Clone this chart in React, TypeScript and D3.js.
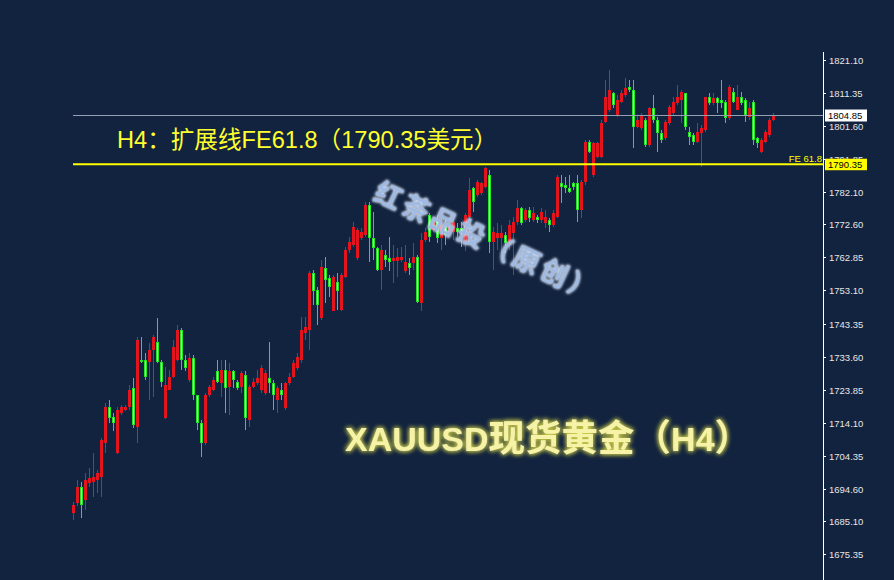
import React from "react";
import * as d3 from "d3";

const W = 894;
const H = 580;

const opens = [1687.4,1690.3,1695.2,1691.3,1696.4,1696.7,1697.2,1698.2,1708.0,1718.8,1715.9,1705.1,1716.9,1717.9,1718.8,1724.2,1712.9,1732.6,1732.6,1732.1,1735.6,1738.0,1732.1,1715.4,1723.8,1727.7,1732.6,1741.5,1732.6,1726.7,1733.1,1722.3,1713.9,1708.0,1722.3,1723.8,1729.2,1725.7,1729.7,1724.7,1729.2,1726.2,1724.7,1728.2,1714.9,1724.7,1725.7,1723.8,1722.8,1727.2,1725.7,1720.8,1723.8,1718.4,1725.7,1727.7,1730.2,1732.6,1740.5,1741.5,1758.2,1753.3,1744.9,1759.7,1756.7,1746.9,1755.7,1747.4,1757.2,1765.1,1766.5,1762.6,1768.5,1769.5,1778.3,1768.5,1765.5,1759.2,1763.6,1762.6,1761.9,1761.9,1762.1,1758.7,1761.1,1761.1,1763.1,1749.3,1768.0,1775.4,1771.0,1773.9,1768.5,1771.9,1770.0,1770.5,1771.4,1771.4,1767.0,1774.9,1783.2,1781.3,1781.8,1783.7,1787.2,1767.5,1768.5,1768.5,1769.5,1766.5,1770.0,1773.4,1777.4,1773.9,1776.9,1773.9,1774.9,1773.9,1772.9,1773.9,1772.4,1774.9,1784.7,1784.2,1783.2,1784.7,1784.7,1776.9,1785.2,1797.0,1787.2,1792.6,1792.6,1802.9,1806.4,1811.3,1804.9,1808.8,1810.8,1813.2,1812.3,1801.4,1800.9,1803.4,1796.0,1806.8,1803.4,1799.5,1798.0,1802.4,1805.4,1808.3,1809.3,1811.3,1800.0,1799.0,1797.0,1799.5,1800.5,1810.3,1808.3,1809.8,1809.3,1808.8,1803.9,1811.8,1806.4,1810.3,1809.3,1804.4,1808.8,1798.0,1794.1,1797.0,1799.0,1803.4];
const highs = [1690.8,1697.2,1696.7,1699.2,1700.7,1705.1,1700.2,1709.5,1719.8,1720.8,1716.9,1718.8,1719.3,1719.3,1725.2,1727.2,1739.5,1739.5,1734.6,1737.5,1740.0,1744.9,1732.6,1730.6,1729.7,1738.5,1743.0,1741.9,1734.1,1734.6,1734.1,1722.3,1714.9,1722.8,1725.2,1727.7,1732.6,1732.6,1732.6,1731.6,1729.7,1726.7,1729.2,1729.2,1725.2,1727.2,1729.7,1731.1,1729.7,1738.0,1726.7,1724.8,1725.7,1726.2,1728.7,1732.6,1734.6,1745.4,1745.4,1758.7,1759.2,1754.2,1762.1,1763.1,1757.7,1757.7,1758.2,1758.2,1766.0,1769.0,1773.4,1771.4,1771.4,1779.3,1779.3,1776.4,1766.0,1766.5,1765.1,1769.0,1766.5,1765.5,1766.0,1766.5,1762.6,1767.0,1763.6,1770.0,1771.4,1775.9,1774.9,1775.4,1774.9,1773.9,1772.9,1774.4,1772.9,1773.4,1775.9,1786.2,1783.7,1785.7,1785.2,1789.6,1788.7,1771.9,1772.9,1772.4,1770.5,1773.9,1774.9,1779.8,1777.8,1777.4,1777.8,1777.8,1775.4,1777.4,1776.9,1774.4,1776.9,1787.2,1787.2,1786.7,1787.2,1785.2,1787.2,1785.7,1797.5,1797.5,1797.0,1797.0,1803.4,1815.2,1818.2,1811.8,1810.8,1812.3,1815.7,1815.2,1815.2,1804.9,1805.4,1803.9,1807.3,1810.8,1804.4,1800.5,1803.4,1807.8,1810.3,1813.7,1812.3,1811.3,1801.4,1799.5,1802.4,1801.9,1810.3,1811.3,1811.3,1810.3,1815.2,1809.3,1813.7,1812.7,1813.7,1811.8,1809.8,1808.8,1809.3,1798.5,1798.0,1800.5,1803.9,1805.4];
const lows = [1685.4,1689.4,1685.9,1688.4,1695.2,1692.3,1693.3,1692.3,1705.1,1713.9,1711.5,1704.9,1716.4,1717.4,1717.9,1712.5,1708.0,1731.6,1726.7,1720.8,1721.8,1731.6,1724.7,1715.1,1723.6,1727.2,1732.4,1729.7,1729.2,1726.2,1720.8,1712.0,1704.1,1707.5,1721.8,1723.3,1725.7,1721.8,1716.9,1716.4,1724.2,1723.8,1722.8,1712.0,1712.9,1724.2,1725.2,1722.8,1722.3,1722.8,1717.9,1716.9,1720.8,1717.9,1725.2,1727.2,1729.7,1731.6,1738.5,1735.6,1748.8,1742.9,1744.4,1749.3,1751.3,1746.9,1747.4,1746.9,1756.7,1764.1,1766.0,1762.1,1768.0,1769.0,1761.6,1762.1,1758.7,1753.3,1760.1,1758.7,1755.2,1757.2,1761.6,1758.2,1757.7,1759.2,1749.3,1746.9,1767.5,1767.5,1770.5,1767.0,1765.1,1766.5,1769.5,1768.0,1769.0,1766.0,1764.6,1770.0,1776.4,1780.8,1781.3,1783.2,1764.1,1759.2,1765.1,1764.1,1764.1,1765.1,1757.7,1772.4,1772.4,1773.4,1773.4,1773.4,1772.9,1772.9,1771.4,1770.5,1771.9,1774.4,1778.8,1781.8,1781.8,1782.8,1773.4,1774.4,1784.2,1793.6,1786.7,1792.1,1792.1,1802.4,1805.9,1806.8,1804.4,1808.3,1810.3,1811.8,1795.0,1800.9,1800.5,1795.5,1795.5,1802.4,1794.1,1796.5,1797.5,1801.9,1804.9,1807.8,1802.4,1800.5,1796.0,1796.0,1796.5,1789.6,1800.0,1807.8,1807.8,1805.4,1806.8,1802.4,1803.4,1808.3,1806.4,1807.8,1802.9,1803.4,1796.0,1795.0,1793.6,1796.5,1798.5,1803.2];
const closes = [1689.8,1695.2,1689.8,1697.2,1697.7,1698.2,1699.2,1709.0,1718.8,1715.4,1713.9,1717.9,1718.8,1718.8,1723.8,1713.4,1738.5,1732.0,1727.7,1735.6,1739.5,1732.1,1726.2,1725.2,1727.7,1736.5,1741.5,1732.6,1730.1,1733.1,1722.3,1713.9,1708.0,1722.3,1724.7,1726.7,1726.2,1729.7,1724.2,1729.2,1726.7,1724.2,1728.7,1715.4,1724.7,1726.2,1727.2,1730.2,1728.7,1725.7,1722.3,1724.2,1722.3,1725.7,1727.7,1731.6,1733.6,1741.5,1742.4,1758.2,1752.8,1748.8,1760.1,1756.2,1754.2,1757.2,1752.8,1757.7,1765.1,1767.5,1771.9,1771.0,1770.5,1778.3,1768.5,1765.5,1759.2,1765.1,1762.1,1761.6,1762.6,1763.1,1763.1,1761.6,1759.7,1763.1,1749.8,1768.0,1770.5,1769.0,1773.4,1768.5,1772.4,1769.5,1771.9,1773.4,1770.5,1770.5,1775.4,1782.8,1779.3,1785.2,1784.7,1789.1,1767.5,1770.5,1770.0,1770.0,1767.0,1772.4,1773.4,1777.4,1772.9,1776.9,1774.4,1775.9,1773.9,1776.4,1774.9,1772.4,1775.9,1786.7,1783.7,1783.2,1782.3,1783.7,1776.9,1785.2,1797.0,1794.1,1796.5,1796.5,1802.4,1810.3,1812.3,1807.8,1809.3,1811.3,1812.7,1812.3,1801.4,1803.4,1804.9,1796.0,1806.8,1803.4,1799.5,1797.5,1802.9,1807.3,1808.8,1810.3,1811.8,1801.4,1798.5,1797.0,1800.0,1800.9,1810.3,1808.3,1809.8,1808.3,1808.3,1803.9,1813.2,1808.8,1810.3,1808.3,1804.9,1806.8,1797.5,1796.5,1797.5,1800.0,1803.4,1804.9];

const tickValues = [1821.10, 1811.35, 1801.60, 1791.85, 1782.10, 1772.60, 1762.85, 1753.10, 1743.35, 1733.60, 1723.85, 1714.10, 1704.35, 1694.60, 1685.10, 1675.35];
const lastPrice = 1804.85;
const fePrice = 1790.35;
const feLabel = "FE 61.8";
const titleText = "H4：扩展线FE61.8（1790.35美元）";
const bottomParts = ["XAUUSD", "现货黄金（", "H4", "）"];
const watermarkText = "红茶品投（原创）";

const BG = "#12233f";
const UP = "#e3141e";
const DOWN = "#22e622";
const DOWN_FILL = "#b8ffb8";
const AXIS_X = 823;

export default function App() {
  const n = opens.length;
  const x = d3.scaleLinear().domain([0, n - 1]).range([73.5, 73.5 + 4 * (n - 1)]);
  const y = d3.scaleLinear().domain([1675.35, 1821.10]).range([554, 60]);

  const candles = d3.range(n).map((i) => {
    const o = opens[i], c = closes[i], h = highs[i], l = lows[i];
    const up = c >= o;
    const xc = x(i);
    const top = Math.round(y(Math.max(o, c)));
    const bot = Math.round(y(Math.min(o, c)));
    const bh = Math.max(1, bot - top);
    const yh = Math.round(y(h));
    const yl = Math.round(y(l));
    return (
      <g key={i}>
        <rect x={xc - 0.5} y={yh} width={1} height={Math.max(1, yl - yh)} fill={up ? UP : DOWN} />
        {up ? (
          <rect x={xc - 1.5} y={top} width={3} height={bh} fill={UP} />
        ) : (
          <g>
            <rect x={xc - 1.5} y={top} width={3} height={bh} fill={DOWN} />
            {bh > 2 && <rect x={xc - 0.5} y={top + 1} width={1} height={bh - 2} fill={DOWN_FILL} />}
          </g>
        )}
      </g>
    );
  });

  const yLast = Math.round(y(lastPrice)) + 0.5;
  const yFe = y(fePrice);

  return (
    <svg width={W} height={H} style={{ position: "absolute", left: 0, top: 0, display: "block" }} xmlns="http://www.w3.org/2000/svg">
      <defs>
        <clipPath id="plotClip">
          <rect x={0} y={0} width={W} height={558} />
        </clipPath>
        <filter id="glowY" x="-10%" y="-40%" width="120%" height="180%">
          <feGaussianBlur in="SourceAlpha" stdDeviation="2.4" result="b" />
          <feFlood floodColor="#d8d84a" floodOpacity="0.9" />
          <feComposite in2="b" operator="in" result="g" />
          <feMerge>
            <feMergeNode in="g" />
            <feMergeNode in="g" />
            <feMergeNode in="SourceGraphic" />
          </feMerge>
        </filter>
        <filter id="glowB" x="-10%" y="-40%" width="120%" height="180%">
          <feGaussianBlur in="SourceAlpha" stdDeviation="1.8" result="b" />
          <feFlood floodColor="#eef4ff" floodOpacity="0.85" />
          <feComposite in2="b" operator="in" result="g" />
          <feMerge>
            <feMergeNode in="g" />
            <feMergeNode in="g" />
            <feMergeNode in="SourceGraphic" />
          </feMerge>
        </filter>
      </defs>
      <rect x={0} y={0} width={W} height={H} fill={BG} />

      <g clipPath="url(#plotClip)" shapeRendering="crispEdges">{candles}</g>

      {/* bid line */}
      <line x1={73} x2={AXIS_X} y1={yLast} y2={yLast} stroke="#93a0b4" strokeWidth={1} />
      {/* FE line */}
      <line x1={73} x2={AXIS_X} y1={yFe} y2={yFe} stroke="#ffff00" strokeWidth={2} />
      <text x={AXIS_X - 1} y={yFe - 2.5} textAnchor="end" fill="#ffff00" fontFamily="Liberation Sans, Arial, sans-serif" fontSize={9.5}>{feLabel}</text>

      {/* price axis */}
      <line x1={AXIS_X + 0.5} x2={AXIS_X + 0.5} y1={52} y2={H} stroke="#ffffff" strokeWidth={1} />
      <g clipPath="url(#plotClip)">
        {tickValues.map((v) => {
          const ty = Math.round(y(v)) + 0.5;
          return (
            <g key={v}>
              <line x1={AXIS_X} x2={AXIS_X + 3} y1={ty} y2={ty} stroke="#ffffff" strokeWidth={1} />
              <text x={829} y={ty + 3.5} fill="#e6e6e6" fontFamily="Liberation Sans, Arial, sans-serif" fontSize={9.5}>{v.toFixed(2)}</text>
            </g>
          );
        })}
      </g>

      {/* price boxes */}
      <rect x={825} y={yLast - 6} width={42} height={12} fill="#ffffff" />
      <text x={828} y={yLast + 3.5} fill="#000000" fontFamily="Liberation Sans, Arial, sans-serif" fontSize={9.5}>{lastPrice.toFixed(2)}</text>
      <rect x={825} y={yFe - 5.5} width={42} height={11.5} fill="#ffff00" />
      <text x={828} y={yFe + 3.5} fill="#000000" fontFamily="Liberation Sans, Arial, sans-serif" fontSize={9.5}>{fePrice.toFixed(2)}</text>

      {/* title */}
      <text x={117} y={148} fill="#ffff2e" fontFamily="Liberation Sans, 'Noto Sans CJK SC', sans-serif" fontSize={23.6}>{titleText}</text>

      {/* watermark */}
      <text x={372} y={199} transform="rotate(25 372 199)" fill="#9fbbe4" fontFamily="'Noto Sans CJK SC', sans-serif" fontWeight={700} fontSize={27} letterSpacing={3.5} filter="url(#glowB)">{watermarkText}</text>

      {/* bottom label */}
      <text x={345} y={451} fill="#f6f3a8" fontFamily="Liberation Sans, 'Noto Sans CJK SC', sans-serif" fontWeight="bold" filter="url(#glowY)">
        <tspan fontSize={34}>{bottomParts[0]}</tspan>
        <tspan fontSize={36.5}>{bottomParts[1]}</tspan>
        <tspan fontSize={34}>{bottomParts[2]}</tspan>
        <tspan fontSize={36.5}>{bottomParts[3]}</tspan>
      </text>
    </svg>
  );
}
